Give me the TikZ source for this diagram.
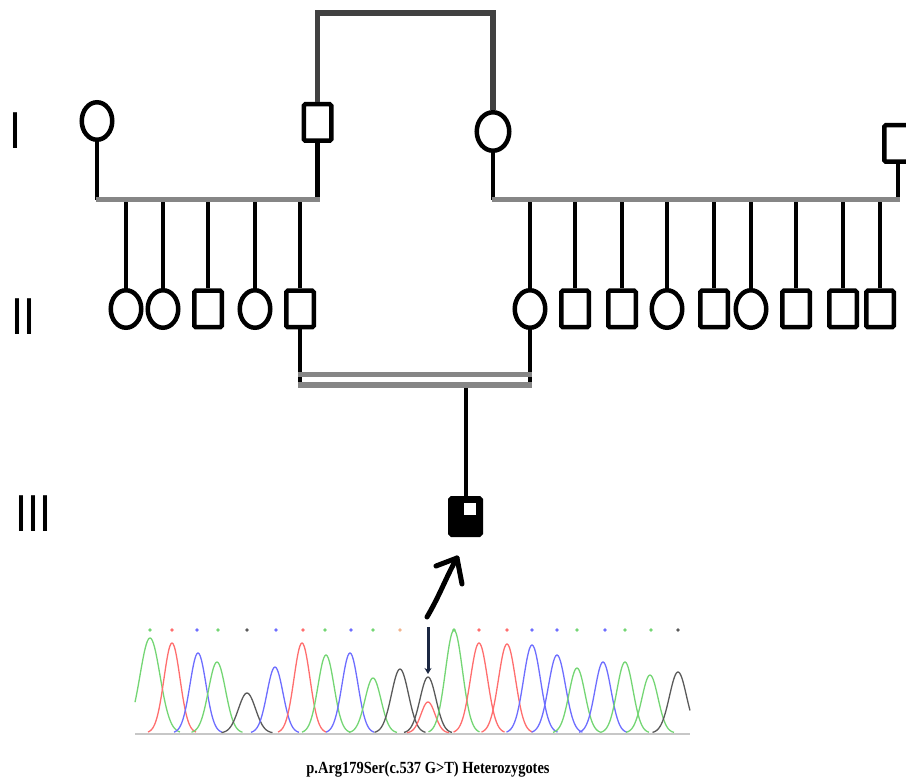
\documentclass[tikz,border=0pt]{standalone}
\usepackage{fontspec}
\newfontfamily\labfont{Liberation Sans}
\newfontfamily\capfont{Liberation Serif}
\usetikzlibrary{shapes.geometric,arrows.meta}
\definecolor{sibgray}{HTML}{868686}
\definecolor{topgray}{HTML}{414141}
\definecolor{cgreen}{HTML}{74D674}
\definecolor{cred}{HTML}{FF6E6E}
\definecolor{cblue}{HTML}{6E6EFF}
\definecolor{cblack}{HTML}{5A5A5A}
\definecolor{corange}{HTML}{F2B48C}
\definecolor{navy}{HTML}{1B2742}
\tikzset{
  mal/.style={rectangle,draw=black,line width=4.5pt,minimum width=27.5pt,minimum height=36.5pt,inner sep=0pt,rounded corners=1.5pt},
  fem/.style={ellipse,draw=black,line width=4.5pt,minimum width=30.5pt,minimum height=37.5pt,inner sep=0pt},
  blk/.style={draw=black,line width=4.5pt},
  sib/.style={draw=sibgray,line width=5pt},
  topline/.style={draw=topgray,line width=5.5pt},
  gen/.style={inner sep=0pt,font=\labfont\fontsize{52}{52}\selectfont},
  chrom/.style={line width=1.3pt},
  hand/.style={draw=black,line width=5pt,line cap=round,line join=round},
}
\newcommand{\pk}[4]{%
  \pgfmathsetmacro\pka{max(135,#2-3*#4)}%
  \pgfmathsetmacro\pkb{min(690,#2+3*#4)}%
  \draw[#1,chrom] plot[domain=\pka:\pkb,samples=45,smooth] (\x,{733-#3*exp(-((\x-#2)^2)/(2*#4*#4))});%
}
\newcommand{\mk}[2]{\fill[#1] (#2,630) circle (1.8pt);}
\begin{document}
\begin{tikzpicture}[x=1pt,y=-1pt]
\useasboundingbox (0,0) rectangle (906,778);
\fill[white] (0,0) rectangle (906,778);

% generation labels
\node[gen] (gI) at (15,131) {\scalebox{0.83}[1]{I}};
\node[gen] (gII) at (23.5,317) {\scalebox{0.83}[1]{II}};
\node[gen] (gIII) at (33,514) {\scalebox{0.83}[1]{III}};

% generation I
\node[fem] (I1) at (97,121) {};
\node[mal] (I2) at (317.5,122.5) {};
\node[fem,minimum width=32.5pt,minimum height=38.5pt] (I3) at (493,131.5) {};
\node[mal] (I4) at (898,143.5) {};

\coordinate (t1) at (317.5,13);
\coordinate (t2) at (493,13);
\draw[topline,line join=miter] (I2.north) -- (t1) -- (t2) -- (I3.north);

\coordinate (sL1) at (97,200);
\coordinate (sL2) at (317.5,200);
\coordinate (sR1) at (493,200);
\coordinate (sR2) at (898,200);

% generation II
\foreach \n/\x/\s in {a/126/fem,b/163/fem,c/208/mal,d/255/fem,e/300/mal,
  f/530/fem,g/575/mal,h/622/mal,i/667/fem,j/714/mal,k/751/fem,l/796/mal,m/843/mal,n/880/mal}{
  \node[\s] (II\n) at (\x,309) {};
}
\foreach \n in {a,b,c,d,e}{\draw[blk] (II\n.north |- sL1) -- (II\n.north);}
\foreach \n in {f,g,h,i,j,k,l,m,n}{\draw[blk] (II\n.north |- sR1) -- (II\n.north);}

\draw[blk] (I1.south) -- (sL1);
\draw[blk] (I2.south) -- (sL2);
\draw[blk] (I3.south) -- (sR1);
\draw[blk] (I4.south) -- (sR2);
\draw[sib] ([xshift=-1pt]sL1) -- ([xshift=2pt]sL2);
\draw[sib] ([xshift=-1pt]sR1) -- ([xshift=2pt]sR2);

% consanguineous marriage
\coordinate (m1) at (300,384);
\coordinate (m2) at (530,384);
\draw[blk] (IIe.south) -- (m1);
\draw[blk] (IIf.south) -- (m2);
\coordinate (d1) at (298,375);
\coordinate (d2) at (532,375);
\coordinate (e1) at (298,385.5);
\coordinate (e2) at (532,385.5);
\draw[sib,line width=5pt] (d1) -- (d2);
\draw[sib,line width=6pt] (e1) -- (e2);
\coordinate (c1) at (465.5,388);

% proband
\node[mal,fill=black,minimum width=30.5pt,minimum height=36.5pt] (III1) at (465.5,516.5) {};
\draw[blk,line width=4pt] (c1) -- (III1.north);
\node[fill=white,minimum size=12pt,inner sep=0pt] (ins) at (470,509) {};

% hand-drawn arrow
\coordinate (dt) at (427,617);
\coordinate (dh) at (457,558);
\coordinate (db1) at (436,566);
\coordinate (db2) at (462,584);
\draw[hand] (dt) .. controls (440,595) and (447,575) .. (dh);
\draw[hand] (db1) -- (dh) -- (db2);

% chromatogram
\draw[draw=black!22,line width=1.5pt] (135,734) -- (690,734);
\pk{cgreen}{150}{95}{10}
\pk{cred}{172}{90}{8}
\pk{cblue}{198}{80}{8}
\pk{cgreen}{217}{71}{8.5}
\pk{cblack}{247}{40}{8.5}
\pk{cblue}{275}{66}{8}
\pk{cred}{302}{90}{8}
\pk{cgreen}{326}{78}{8}
\pk{cblue}{350}{80}{8}
\pk{cgreen}{373}{55}{8}
\pk{cblack}{400}{64}{8.5}
\pk{cblack}{428}{56}{8}
\pk{cred}{428}{31}{7}
\pk{cgreen}{454}{103}{8.5}
\pk{cred}{479}{90}{8.5}
\pk{cred}{507}{89}{8.5}
\pk{cblue}{532}{88}{8.5}
\pk{cblue}{557}{78}{8.5}
\pk{cgreen}{577}{65}{8}
\pk{cblue}{603}{71}{8}
\pk{cgreen}{625}{71}{8}
\pk{cgreen}{650}{58}{8}
\pk{cblack}{678}{61}{8.5}
\mk{cgreen}{150}\mk{cred}{172}\mk{cblue}{197}\mk{cgreen}{218}\mk{cblack}{247}
\mk{cblue}{276}\mk{cred}{303}\mk{cgreen}{325}\mk{cblue}{351}\mk{cgreen}{373}\mk{corange}{400}
\mk{cgreen}{454}\mk{cred}{479}\mk{cred}{507}\mk{cblue}{532}\mk{cblue}{557}\mk{cgreen}{577}
\mk{cblue}{605}\mk{cgreen}{625}\mk{cgreen}{651}\mk{cblack}{678}

\coordinate (va1) at (428,627);
\coordinate (va2) at (428,674);
\draw[draw=navy,line width=3pt,-{Stealth[length=6pt,width=7pt]}] (va1) -- (va2);

% caption
\node[inner sep=0pt,anchor=base] (cap) at (428,773) {\capfont\bfseries\fontsize{17}{17}\selectfont\scalebox{0.85}[1]{p.Arg179Ser(c.537 G>T) Heterozygotes}};
\end{tikzpicture}
\end{document}
